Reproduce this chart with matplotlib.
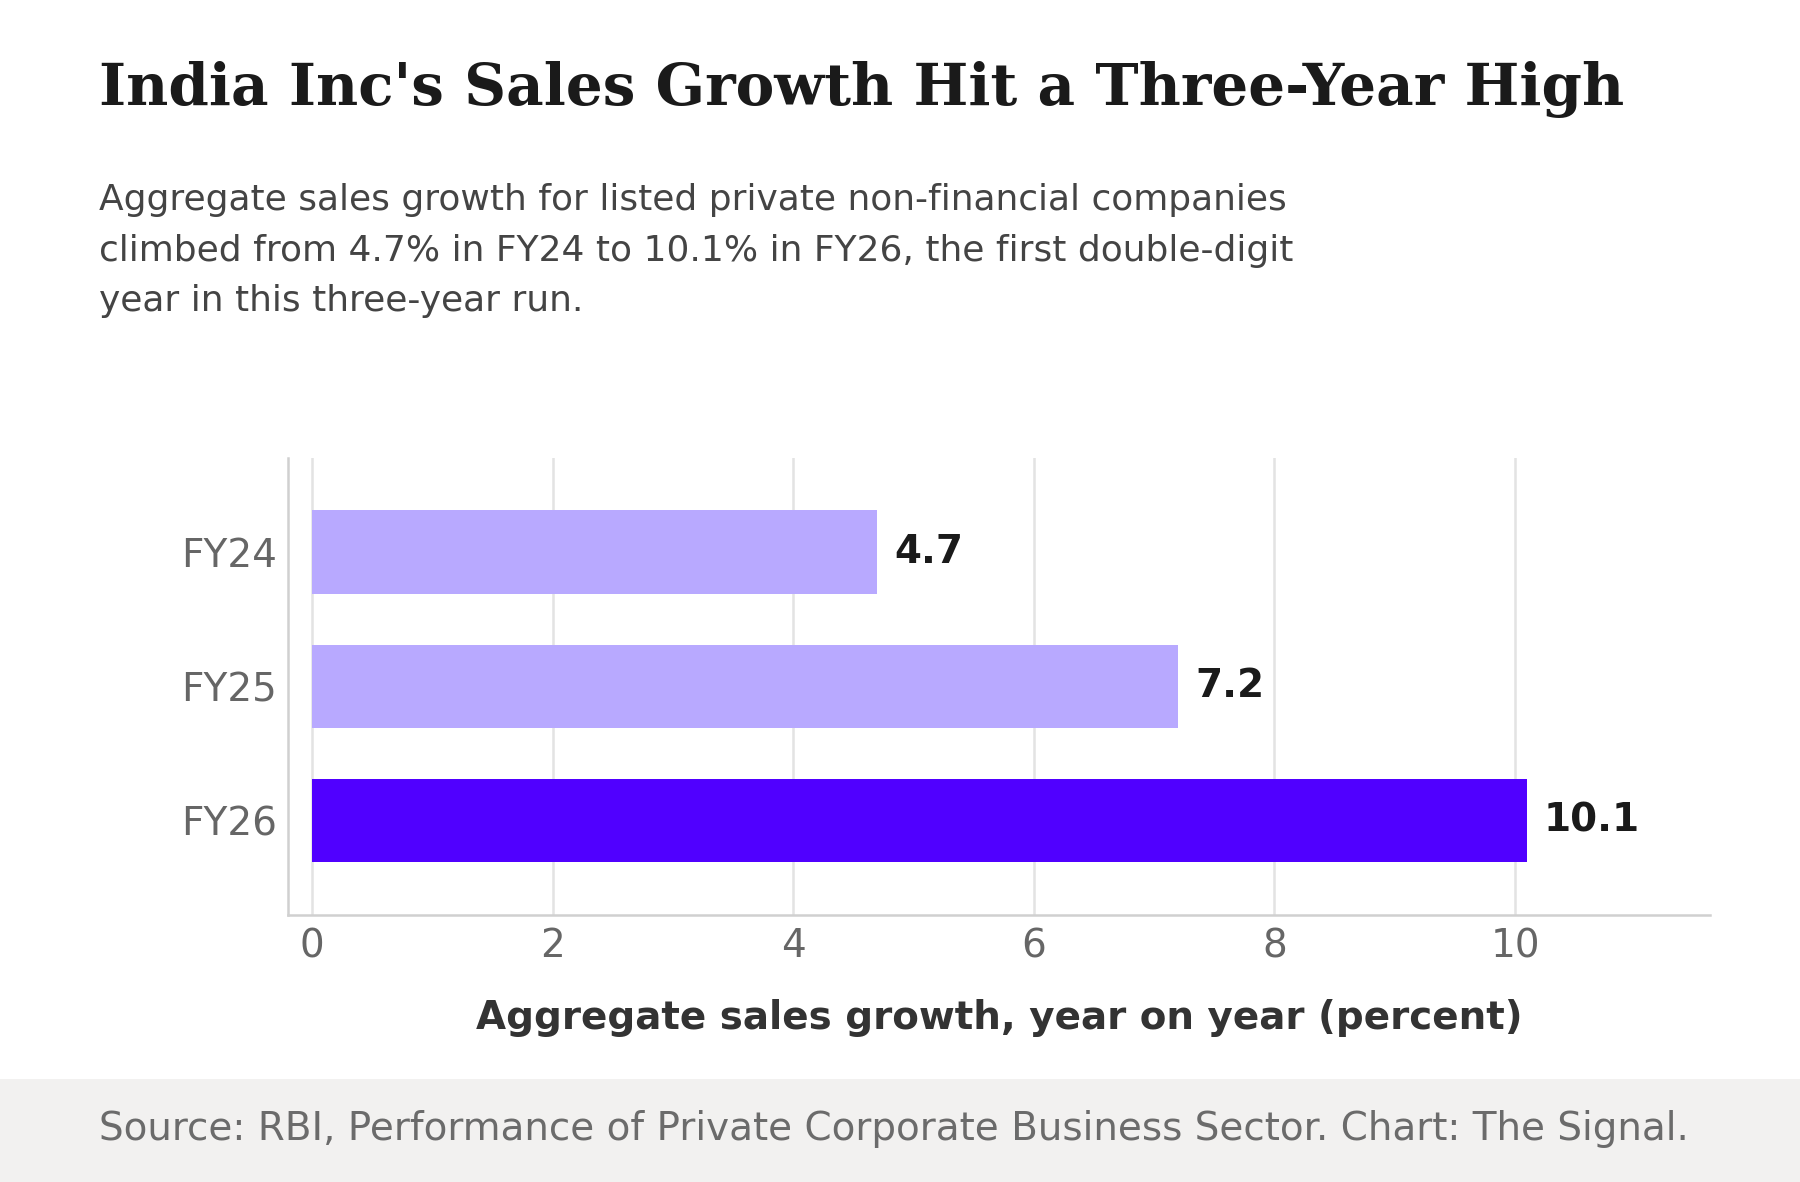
import matplotlib
matplotlib.use("Agg")
import matplotlib.pyplot as plt

categories = ["FY24", "FY25", "FY26"]
values = [4.7, 7.2, 10.1]
bar_colors = ["#b8a9ff", "#b8a9ff", "#5000ff"]
xticks = [0, 2, 4, 6, 8, 10]

title = "India Inc's Sales Growth Hit a Three-Year High"
subtitle_lines = [
    "Aggregate sales growth for listed private non-financial companies",
    "climbed from 4.7% in FY24 to 10.1% in FY26, the first double-digit",
    "year in this three-year run.",
]
xlabel = "Aggregate sales growth, year on year (percent)"
source = "Source: RBI, Performance of Private Corporate Business Sector. Chart: The Signal."

plt.rcParams['font.family'] = ['DejaVu Sans']

fig = plt.figure(figsize=(9, 5.91), dpi=200)
ax = fig.add_axes([0.160, 0.226, 0.790, 0.3865])

ypos = list(range(len(categories)))
ax.barh(ypos, values, height=0.62, color=bar_colors, zorder=3)
for y, v in zip(ypos, values):
    ax.annotate(f"{v:.1f}", xy=(v, y), xytext=(6, 0), textcoords="offset points",
                va="center", ha="left", fontsize=14, fontweight="bold", color="#1a1a1a")

ax.set_yticks(ypos)
ax.set_yticklabels(categories)
ax.set_ylim(2.7, -0.7)
ax.set_xlim(-0.2, 11.62)
ax.set_xticks(xticks)
ax.set_xticklabels([str(t) for t in xticks])
ax.tick_params(axis="both", length=0, labelsize=14, labelcolor="#666666")
ax.tick_params(axis="x", pad=4.5)
ax.tick_params(axis="y", pad=4)
ax.grid(axis="x", color="#e3e3e3", linewidth=0.9, zorder=0)
ax.grid(axis="y", visible=False)
for s in ["top", "right"]:
    ax.spines[s].set_visible(False)
for s in ["left", "bottom"]:
    ax.spines[s].set_color("#d0d0d0")
    ax.spines[s].set_linewidth(0.9)
ax.set_xlabel(xlabel, fontsize=14, fontweight="bold", color="#333333", labelpad=12)

fig.text(0.0548, 0.9115, title, fontsize=20.9, fontweight="bold", family="DejaVu Serif",
         color="#1a1a1a", va="baseline", ha="left")
for i, (line, yb) in enumerate(zip(subtitle_lines, [0.8223, 0.7795, 0.7367])):
    fig.text(0.0548, yb, line, fontsize=12.95, color="#444444", va="baseline", ha="left")

fig.patches.append(plt.Rectangle((0, 0), 1, 0.087, transform=fig.transFigure,
                                 facecolor="#f2f1f0", edgecolor="none", zorder=-1))
fig.text(0.0548, 0.0447, source, fontsize=14, color="#6b6b6b", va="center", ha="left")

fig.savefig("out.png", dpi=200, facecolor="white")
